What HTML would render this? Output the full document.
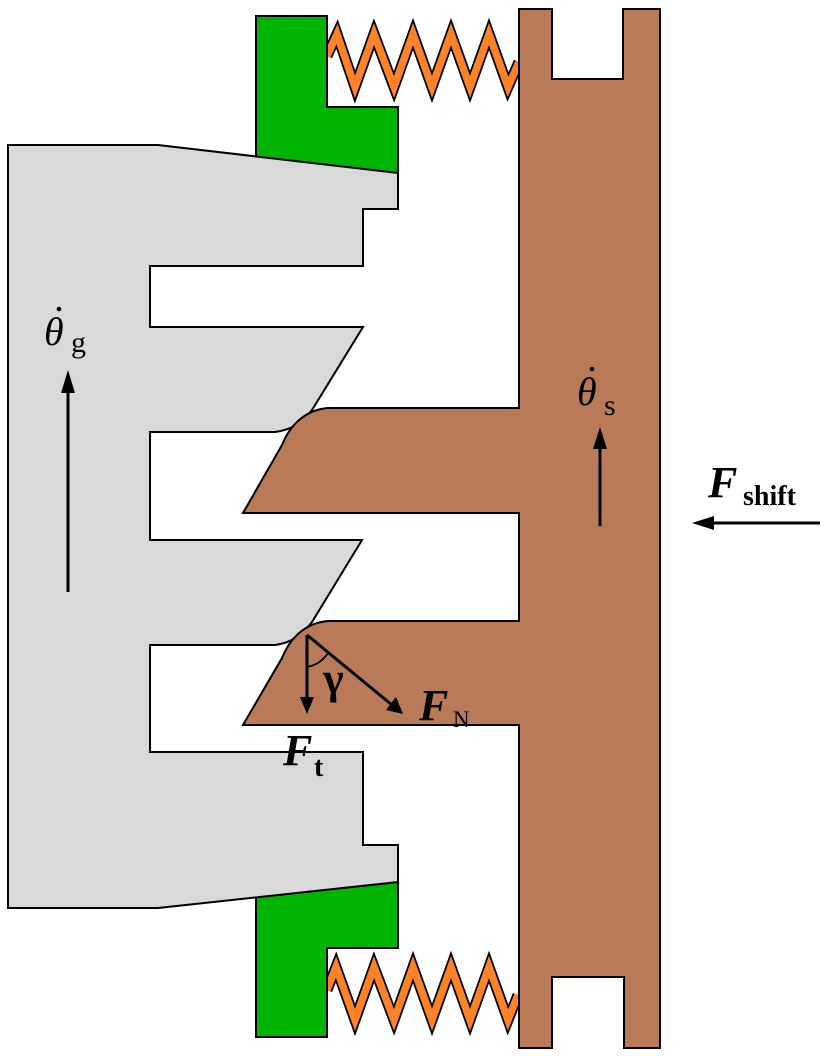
<!DOCTYPE html>
<html><head><meta charset="utf-8"><style>
html,body{margin:0;padding:0;background:#fff;}
svg{display:block;}
text{font-family:"Liberation Serif",serif;}
</style></head><body>
<svg width="826" height="1056" viewBox="0 0 826 1056" xmlns="http://www.w3.org/2000/svg">
<rect width="826" height="1056" fill="#fff"/>
<!-- springs -->
<polyline points="327,56 337,34 355,87 374,34 394,87 413,34 432,87 451,34 470,87 489,34 508,87 519,62" fill="none" stroke="#000" stroke-width="11" stroke-linejoin="miter"/>
<polyline points="327,56 337,34 355,87 374,34 394,87 413,34 432,87 451,34 470,87 489,34 508,87 519,62" fill="none" stroke="#fb8226" stroke-width="7.5" stroke-linejoin="miter"/>
<polyline points="327,990 336,967 355,1020 374,967 394,1020 413,967 432,1020 451,967 470,1020 489,967 508,1020 518,995" fill="none" stroke="#000" stroke-width="11"/>
<polyline points="327,990 336,967 355,1020 374,967 394,1020 413,967 432,1020 451,967 470,1020 489,967 508,1020 518,995" fill="none" stroke="#fb8226" stroke-width="7.5"/>
<!-- green -->
<path d="M256,16 L327,16 L327,107 L398,107 L398,173 L256,157 Z" fill="#00b400" stroke="#000" stroke-width="2"/>
<path d="M256,897 L398,882 L398,948 L327,948 L327,1037 L256,1037 Z" fill="#00b400" stroke="#000" stroke-width="2"/>
<!-- gray -->
<path d="M8,145 L158,145 L398,173 L398,209 L363,209 L363,266 L150,266 L150,327 L363,327 L312,410 C300,425 290,430 275,432 L150,432 L150,540 L362,540 L312,622 C300,637 290,643 275,645 L150,645 L150,752 L363,752 L363,845 L398,845 L398,882 L158,908 L8,908 Z" fill="#d9d9d9" stroke="#000" stroke-width="2" stroke-linejoin="miter"/>
<!-- brown -->
<path d="M519,9 L552,9 L552,79 L623,79 L623,9 L660,9 L660,1048 L624,1048 L624,977 L552,977 L552,1048 L519,1048 L519,725 L243,725 L282,658 C290,638 305,623 328,621 L519,621 L519,513 L243,513 L282,445 C290,425 305,410 328,408 L519,408 Z" fill="#b97a57" stroke="#000" stroke-width="2" stroke-linejoin="miter"/>
<!-- theta g -->
<line x1="68" y1="592" x2="68" y2="388" stroke="#000" stroke-width="3"/>
<polygon points="68,370 61,393 75,393" fill="#000"/>
<text x="44" y="345" font-size="40" font-style="italic">θ</text>
<circle cx="59" cy="309" r="2.3" fill="#000"/>
<text x="71" y="352" font-size="30">g</text>
<!-- theta s -->
<line x1="600" y1="526" x2="600" y2="444" stroke="#000" stroke-width="3"/>
<polygon points="600,427 593,449 607,449" fill="#000"/>
<text x="577" y="405" font-size="40" font-style="italic">θ</text>
<circle cx="592" cy="369" r="2.3" fill="#000"/>
<text x="604" y="415" font-size="30">s</text>
<!-- F shift -->
<line x1="820" y1="523" x2="710" y2="523" stroke="#000" stroke-width="3"/>
<polygon points="692,523 714,516 714,530" fill="#000"/>
<text x="708" y="497" font-size="44" font-weight="bold" font-style="italic">F</text>
<text x="743" y="505" font-size="28" font-weight="bold">shift</text>
<!-- forces -->
<line x1="307" y1="635" x2="307" y2="700" stroke="#000" stroke-width="3"/>
<polygon points="307,714 300,697 314,697" fill="#000"/>
<line x1="307" y1="635" x2="392" y2="705" stroke="#000" stroke-width="3"/>
<polygon points="403,714 386,710 396,697" fill="#000"/>
<path d="M307,667 A32,32 0 0 0 328,653" fill="none" stroke="#000" stroke-width="1.8"/>
<text x="323" y="693" font-size="44" font-weight="bold">γ</text>
<text x="419" y="720" font-size="44" font-weight="bold" font-style="italic">F</text>
<text x="453" y="727" font-size="23">N</text>
<text x="283" y="765" font-size="44" font-weight="bold" font-style="italic">F</text>
<text x="314" y="776" font-size="28" font-weight="bold">t</text>
</svg>
</body></html>
